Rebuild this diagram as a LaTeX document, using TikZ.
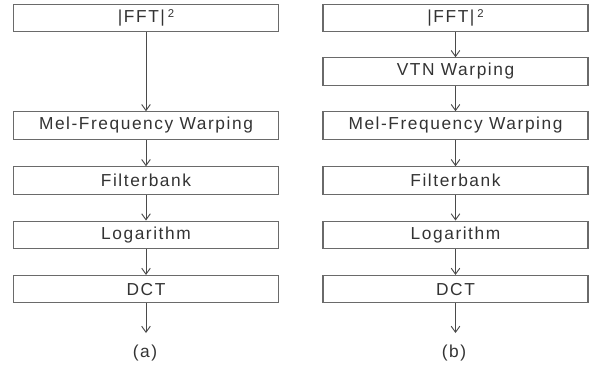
\documentclass[tikz,border=0pt]{standalone}
\usepackage{fontspec}
\setmainfont{Liberation Sans}[LetterSpace=9]
\usetikzlibrary{arrows.meta}
\definecolor{boxline}{HTML}{6A6A6A}
\definecolor{arrowline}{HTML}{4A4A4A}
\definecolor{txt}{HTML}{333333}
\begin{document}
\begin{tikzpicture}[x=0.75pt,y=-0.75pt,
  stage/.style={draw=boxline,line width=0.8pt,minimum width=198.75pt,minimum height=20.6pt,inner sep=0pt,text=txt,font=\fontsize{13}{15}\selectfont},
  flow/.style={draw=arrowline,line width=0.7pt,-{Straight Barb[length=4.5pt,width=6.5pt]}},
  caption/.style={text=txt,font=\fontsize{13}{15}\selectfont}]
\useasboundingbox (0,0) rectangle (591,368);
% (a)
\node[stage] (a1) at (146,18) {|FFT|\,\raisebox{0.5ex}{\fontsize{8.5}{9}\selectfont 2}};
\node[stage] (a2) at (146,125.5) {Mel-Frequency Warping};
\node[stage] (a3) at (146,180.5) {Filterbank};
\node[stage] (a4) at (146,234.8) {Logarithm};
\node[stage] (a5) at (146,289.2) {DCT};
\coordinate (aend) at (146,333);
\node[caption] (acap) at (145,353) {(a)};
\draw[flow] (a1) -- (a2);
\draw[flow] (a2) -- (a3);
\draw[flow] (a3) -- (a4);
\draw[flow] (a4) -- (a5);
\draw[flow] (a5) -- (aend);
% (b)
\node[stage] (b1) at (455.5,18) {|FFT|\,\raisebox{0.5ex}{\fontsize{8.5}{9}\selectfont 2}};
\node[stage] (b2) at (455.5,71.5) {VTN Warping};
\node[stage] (b3) at (455.5,125.5) {Mel-Frequency Warping};
\node[stage] (b4) at (455.5,180.5) {Filterbank};
\node[stage] (b5) at (455.5,234.8) {Logarithm};
\node[stage] (b6) at (455.5,289.2) {DCT};
\coordinate (bend) at (455.5,333);
\node[caption] (bcap) at (454,353) {(b)};
\draw[flow] (b1) -- (b2);
\draw[flow] (b2) -- (b3);
\draw[flow] (b3) -- (b4);
\draw[flow] (b4) -- (b5);
\draw[flow] (b5) -- (b6);
\draw[flow] (b6) -- (bend);
\end{tikzpicture}
\end{document}
